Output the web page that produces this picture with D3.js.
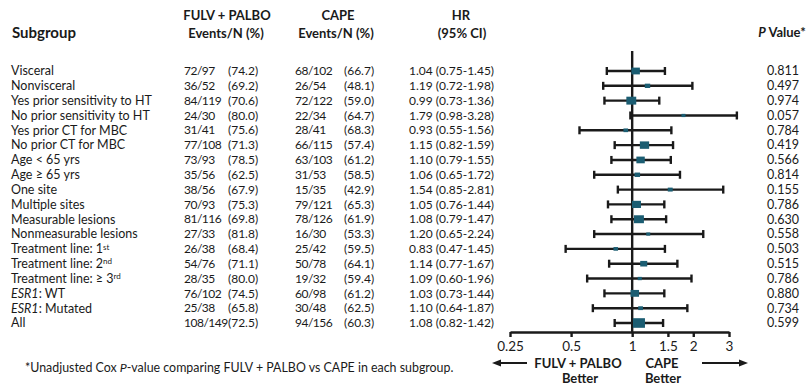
<!DOCTYPE html>
<html>
<head>
<meta charset="utf-8">
<script src="https://cdn.jsdelivr.net/npm/d3@7"></script>
<style>
  html, body { margin: 0; padding: 0; background: #fff; }
  svg { display: block; font-family: Lato, "Noto Sans", sans-serif; }
  .body-text { font-size: 12.5px; fill: #1a1a1a; }
  .num { font-size: 12px; }
  .count { font-size: 12px; letter-spacing: -0.5px; }
  .head { font-size: 13px; font-weight: bold; fill: #1a1a1a; }
</style>
</head>
<body>
<svg id="chart" width="811" height="385"></svg>
<script>
// Subgroup labels: [main text, superscript, italic prefix]
const subgroups = [
  ["Visceral"], ["Nonvisceral"], ["Yes prior sensitivity to HT"], ["No prior sensitivity to HT"],
  ["Yes prior CT for MBC"], ["No prior CT for MBC"], ["Age < 65 yrs"], ["Age \u2265 65 yrs"],
  ["One site"], ["Multiple sites"], ["Measurable lesions"], ["Nonmeasurable lesions"],
  ["Treatment line: 1", "st"], ["Treatment line: 2", "nd"], ["Treatment line: \u2265 3", "rd"],
  [": WT", null, "ESR1"], [": Mutated", null, "ESR1"], ["All"]
];
const fulvEvents = [72, 36, 84, 24, 31, 77, 73, 35, 38, 70, 81, 27, 26, 54, 28, 76, 25, 108];
const fulvN      = [97, 52, 119, 30, 41, 108, 93, 56, 56, 93, 116, 33, 38, 76, 35, 102, 38, 149];
const fulvPct    = ["74.2", "69.2", "70.6", "80.0", "75.6", "71.3", "78.5", "62.5", "67.9", "75.3", "69.8", "81.8", "68.4", "71.1", "80.0", "74.5", "65.8", "72.5"];
const capeEvents = [68, 26, 72, 22, 28, 66, 63, 31, 15, 79, 78, 16, 25, 50, 19, 60, 30, 94];
const capeN      = [102, 54, 122, 34, 41, 115, 103, 53, 35, 121, 126, 30, 42, 78, 32, 98, 48, 156];
const capePct    = ["66.7", "48.1", "59.0", "64.7", "68.3", "57.4", "61.2", "58.5", "42.9", "65.3", "61.9", "53.3", "59.5", "64.1", "59.4", "61.2", "62.5", "60.3"];
const hr         = [1.04, 1.19, 0.99, 1.79, 0.93, 1.15, 1.10, 1.06, 1.54, 1.05, 1.08, 1.20, 0.83, 1.14, 1.09, 1.03, 1.10, 1.08];
const ciLow      = [0.75, 0.72, 0.73, 0.98, 0.55, 0.82, 0.79, 0.65, 0.85, 0.76, 0.79, 0.65, 0.47, 0.77, 0.60, 0.73, 0.64, 0.82];
const ciHigh     = [1.45, 1.98, 1.36, 3.28, 1.56, 1.59, 1.55, 1.72, 2.81, 1.44, 1.47, 2.24, 1.45, 1.67, 1.96, 1.44, 1.87, 1.42];
const pValues    = ["0.811", "0.497", "0.974", "0.057", "0.784", "0.419", "0.566", "0.814", "0.155", "0.786", "0.630", "0.558", "0.503", "0.515", "0.786", "0.880", "0.734", "0.599"];
const hrTicks    = [0.25, 0.5, 1, 1.5, 2, 3];

const svg = d3.select("#chart");
const ink = "#1a1a1a";
const markColor = "#1b5d72";

const idx = d3.range(subgroups.length);
const y = d3.scalePoint().domain(idx).range([71, 323]);
const x = d3.scaleLog().domain([0.25, 3]).range([510, 729]);
const totalN = idx.map(i => fulvN[i] + capeN[i]);
const size = d3.scaleLinear().domain(d3.extent(totalN)).range([4, 12]);

// Column headers
const head = svg.append("g").attr("class", "head");
head.append("text").attr("x", 12).attr("y", 33).attr("dy", "0.35em").style("font-size", "15px").text("Subgroup");
head.append("text").attr("x", 227).attr("y", 15).attr("dy", "0.35em").attr("text-anchor", "middle").text("FULV + PALBO");
head.append("text").attr("x", 226).attr("y", 33).attr("dy", "0.35em").attr("text-anchor", "middle").style("font-size", "13px").text("Events/N (%)");
head.append("text").attr("x", 338).attr("y", 15).attr("dy", "0.35em").attr("text-anchor", "middle").text("CAPE");
head.append("text").attr("x", 336).attr("y", 33).attr("dy", "0.35em").attr("text-anchor", "middle").style("font-size", "13px").text("Events/N (%)");
head.append("text").attr("x", 461).attr("y", 15).attr("dy", "0.35em").attr("text-anchor", "middle").text("HR");
head.append("text").attr("x", 462).attr("y", 33).attr("dy", "0.35em").attr("text-anchor", "middle").text("(95% CI)");
const pHead = head.append("text").attr("x", 782).attr("y", 32).attr("dy", "0.35em").attr("text-anchor", "middle");
pHead.append("tspan").attr("font-style", "italic").text("P");
pHead.append("tspan").text(" Value*");

// Table rows
const rows = svg.append("g").attr("class", "body-text")
  .selectAll("g").data(idx).join("g")
  .attr("transform", i => `translate(0,${y(i)})`);

const label = rows.append("text").attr("x", 11).attr("dy", "0.35em");
label.filter(i => subgroups[i][2]).append("tspan").attr("font-style", "italic").text(i => subgroups[i][2]);
label.append("tspan").text(i => subgroups[i][0]);
label.filter(i => subgroups[i][1]).append("tspan")
  .attr("font-size", "8px").attr("dy", "-0.45em").text(i => subgroups[i][1]);

rows.append("text").attr("class", "count").attr("x", 184).attr("dy", "0.35em").text(i => `${fulvEvents[i]}/${fulvN[i]}`);
rows.append("text").attr("class", "num").attr("x", 228).attr("dy", "0.35em").text(i => `(${fulvPct[i]})`);
rows.append("text").attr("class", "count").attr("x", 295).attr("dy", "0.35em").text(i => `${capeEvents[i]}/${capeN[i]}`);
rows.append("text").attr("class", "num").attr("x", 344).attr("dy", "0.35em").text(i => `(${capePct[i]})`);
rows.append("text").attr("class", "num").attr("x", 409).attr("dy", "0.35em")
  .text(i => `${hr[i].toFixed(2)} (${ciLow[i].toFixed(2)}-${ciHigh[i].toFixed(2)})`);
rows.append("text").attr("x", 783).attr("dy", "0.35em").attr("text-anchor", "middle").text(i => pValues[i]);

// Forest plot
const plot = svg.append("g");
plot.append("line")
  .attr("x1", x(1)).attr("x2", x(1)).attr("y1", 51).attr("y2", 332)
  .attr("stroke", ink).attr("stroke-width", 2.4);

const ci = plot.selectAll("g.ci").data(idx).join("g").attr("class", "ci")
  .attr("transform", i => `translate(0,${y(i)})`);
ci.append("line").attr("x1", i => x(ciLow[i])).attr("x2", i => x(ciHigh[i]))
  .attr("stroke", ink).attr("stroke-width", 2.4);
ci.append("line").attr("x1", i => x(ciLow[i])).attr("x2", i => x(ciLow[i]))
  .attr("y1", -4).attr("y2", 4).attr("stroke", ink).attr("stroke-width", 2.4);
ci.append("line").attr("x1", i => x(ciHigh[i])).attr("x2", i => x(ciHigh[i]))
  .attr("y1", -4).attr("y2", 4).attr("stroke", ink).attr("stroke-width", 2.4);
ci.append("rect")
  .attr("x", i => x(hr[i]) - size(totalN[i]) / 2)
  .attr("y", i => -size(totalN[i]) * 0.4)
  .attr("width", i => size(totalN[i]))
  .attr("height", i => size(totalN[i]) * 0.8)
  .attr("fill", markColor);

// HR axis
const axis = plot.append("g").attr("transform", "translate(0,332)")
  .call(d3.axisBottom(x).tickValues(hrTicks).tickFormat(d => String(d))
    .tickSize(5).tickSizeOuter(0).tickPadding(4));
axis.select(".domain").attr("stroke", ink).attr("stroke-width", 2.4);
axis.selectAll(".tick line").attr("stroke", ink).attr("stroke-width", 2.4);
axis.selectAll(".tick text").attr("fill", ink).attr("font-size", "13.5px")
  .attr("font-family", "Lato, 'Noto Sans', sans-serif");

// Direction arrows
const arrows = svg.append("g").attr("class", "head");
arrows.append("path").attr("d", "M527,363H498").attr("stroke", ink).attr("stroke-width", 2);
arrows.append("path").attr("d", "M492,363L501,359.5L501,366.5Z").attr("fill", ink);
arrows.append("path").attr("d", "M702,363H741").attr("stroke", ink).attr("stroke-width", 2);
arrows.append("path").attr("d", "M748,363L739,359.5L739,366.5Z").attr("fill", ink);
arrows.append("text").attr("x", 578).attr("y", 363).attr("dy", "0.35em").attr("text-anchor", "middle").text("FULV + PALBO");
arrows.append("text").attr("x", 580).attr("y", 378).attr("dy", "0.35em").attr("text-anchor", "middle").text("Better");
arrows.append("text").attr("x", 662).attr("y", 363).attr("dy", "0.35em").attr("text-anchor", "middle").text("CAPE");
arrows.append("text").attr("x", 663).attr("y", 378).attr("dy", "0.35em").attr("text-anchor", "middle").text("Better");

// Footnote
const note = svg.append("text").attr("x", 25).attr("y", 368).attr("dy", "0.35em")
  .attr("font-size", "12.4px").attr("fill", ink);
note.append("tspan").text("*Unadjusted Cox ");
note.append("tspan").attr("font-style", "italic").text("P");
note.append("tspan").text("-value comparing FULV + PALBO vs CAPE in each subgroup.");
</script>
</body>
</html>
